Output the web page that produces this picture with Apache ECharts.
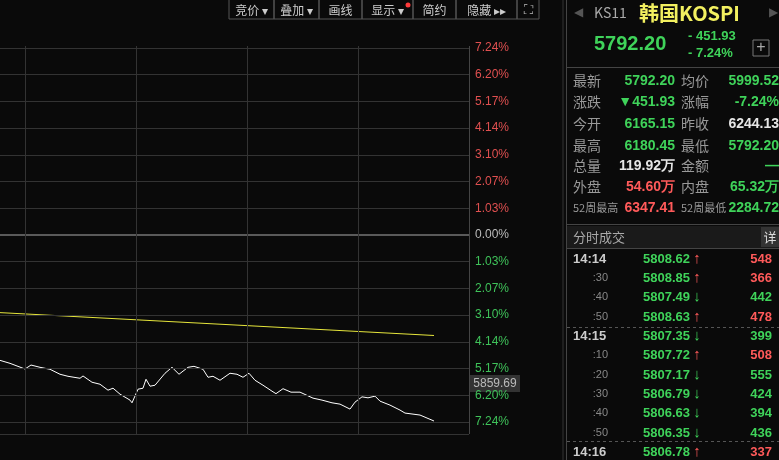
<!DOCTYPE html><html><head><meta charset="utf-8"><script src="https://cdn.jsdelivr.net/npm/echarts@6/dist/echarts.min.js"></script>
<style>body{margin:0;background:#0a0a0a}#c{width:779px;height:460px}</style></head><body><div id="c"></div><script>
const prevClose=6244.13;
const priceX=[0,10,25,31,40,50,60,68,80,83,92,100,108,113,120,130,132,138,143,146,150,155,165,172,179,188,194,203,208,213,220,230,237,243,249,255,263,272,276,283,291,300,313,322,332,340,350,355,362,368,375,380,390,400,405,420,434];
const priceY=[5941.2,5934.0,5920.3,5929.9,5924.4,5919.6,5907.6,5902.7,5897.9,5903.5,5888.3,5883.5,5869.1,5873.9,5859.5,5845.1,5838.6,5871.5,5873.9,5895.5,5878.7,5881.1,5910.0,5924.4,5907.6,5924.4,5926.8,5919.6,5900.3,5902.7,5893.1,5910.0,5907.6,5900.3,5910.0,5893.1,5881.1,5866.7,5860.7,5872.7,5864.3,5864.3,5849.9,5845.1,5838.6,5835.4,5823.4,5840.2,5853.0,5850.6,5854.7,5842.6,5833.0,5821.0,5813.8,5809.0,5794.6];
const avgX=[0,434];
const avgY=[6056.6,6001.3];
const pctLabels=['7.24%','6.20%','5.17%','4.14%','3.10%','2.07%','1.03%','0.00%','1.03%','2.07%','3.10%','4.14%','5.17%','6.20%','7.24%'];
const infoRows=[['最新','5792.20','均价','5999.52'],['涨跌','▼451.93','涨幅','-7.24%'],['今开','6165.15','昨收','6244.13'],['最高','6180.45','最低','5792.20'],['总量','119.92万','金额','—'],['外盘','54.60万','内盘','65.32万'],['52周最高','6347.41','52周最低','2284.72']];
const infoColors=[['#3fd35a','#3fd35a'],['#3fd35a','#3fd35a'],['#3fd35a','#e6e6e6'],['#3fd35a','#3fd35a'],['#e6e6e6','#3fd35a'],['#ff5a5a','#3fd35a'],['#ff5a5a','#3fd35a']];
const ticks=[['14:14','5808.62',1,'548'],[':30','5808.85',1,'366'],[':40','5807.49',0,'442'],[':50','5808.63',1,'478'],['14:15','5807.35',0,'399'],[':10','5807.72',1,'508'],[':20','5807.17',0,'555'],[':30','5806.79',0,'424'],[':40','5806.63',0,'394'],[':50','5806.35',0,'436'],['14:16','5806.78',1,'337']];
const buttons=['竞价 ▾','叠加 ▾','画线','显示 ▾','简约','隐藏 ▸▸'];
const step=prevClose*0.0724/7;
const levels=pctLabels.map((l,i)=>prevClose+(7-i)*step);
const F='"Noto Sans CJK SC",sans-serif';
const g=[];
const bx=[229,274,319,362,413,456,517];
buttons.forEach((b,i)=>{g.push({type:'rect',shape:{x:bx[i],y:-1,width:bx[i+1]-bx[i],height:20},style:{fill:'none',stroke:'#555'}});
g.push({type:'text',x:(bx[i]+bx[i+1])/2,y:10,style:{text:b,fill:'#ccc',font:'12px '+F,align:'center',verticalAlign:'middle'}});});
g.push({type:'circle',shape:{cx:408,cy:5,r:2.5},style:{fill:'#ff3b3b'}});
g.push({type:'rect',shape:{x:517,y:-1,width:22,height:20},style:{fill:'none',stroke:'#555'}});
g.push({type:'text',x:528,y:10,style:{text:'⛶',fill:'#bbb',font:'13px sans-serif',align:'center',verticalAlign:'middle'}});
g.push({type:'line',shape:{x1:563,y1:0,x2:563,y2:460},style:{stroke:'#333'}});
g.push({type:'line',shape:{x1:566.5,y1:0,x2:566.5,y2:460},style:{stroke:'#444'}});
g.push({type:'text',x:578,y:13,style:{text:'◀',fill:'#555',font:'12px sans-serif',align:'center',verticalAlign:'middle'}});
g.push({type:'text',x:773,y:13,style:{text:'▶',fill:'#555',font:'12px sans-serif',align:'center',verticalAlign:'middle'}});
g.push({type:'text',x:594,y:13,style:{text:'KS11',fill:'#aaa',font:'14px '+F,verticalAlign:'middle'}});
g.push({type:'text',x:639,y:13,style:{text:'韩国KOSPI',fill:'#f2f060',font:'bold 20px '+F,verticalAlign:'middle'}});
g.push({type:'text',x:594,y:44,style:{text:'5792.20',fill:'#3fd35a',font:'bold 20px Arial,sans-serif',verticalAlign:'middle'}});
g.push({type:'text',x:688,y:36,style:{text:'- 451.93',fill:'#3fd35a',font:'bold 13px Arial,sans-serif',verticalAlign:'middle'}});
g.push({type:'text',x:688,y:53,style:{text:'- 7.24%',fill:'#3fd35a',font:'bold 13px Arial,sans-serif',verticalAlign:'middle'}});
g.push({type:'rect',shape:{x:753,y:40,width:16,height:16},style:{fill:'none',stroke:'#777'}});
g.push({type:'text',x:761,y:48,style:{text:'+',fill:'#aaa',font:'16px sans-serif',align:'center',verticalAlign:'middle'}});
g.push({type:'line',shape:{x1:567,y1:67.5,x2:779,y2:67.5},style:{stroke:'#444'}});
const ry=[81,102,124,146,166,187,208];
infoRows.forEach((r,i)=>{const small=i==6;
g.push({type:'text',x:573,y:ry[i],style:{text:r[0],fill:'#999',font:(small?'11px ':'14px ')+F,verticalAlign:'middle'}});
g.push({type:'text',x:675,y:ry[i],style:{text:r[1],fill:infoColors[i][0],font:'bold 14px Arial,sans-serif',align:'right',verticalAlign:'middle'}});
g.push({type:'text',x:681,y:ry[i],style:{text:r[2],fill:'#999',font:(small?'11px ':'14px ')+F,verticalAlign:'middle'}});
g.push({type:'text',x:779,y:ry[i],style:{text:r[3],fill:infoColors[i][1],font:'bold 14px Arial,sans-serif',align:'right',verticalAlign:'middle'}});});
g.push({type:'line',shape:{x1:567,y1:224.5,x2:779,y2:224.5},style:{stroke:'#444'}});
g.push({type:'rect',shape:{x:567,y:226,width:212,height:22},style:{fill:'#1a1a1a'}});
g.push({type:'text',x:573,y:237,style:{text:'分时成交',fill:'#aaa',font:'13px '+F,verticalAlign:'middle'}});
g.push({type:'rect',shape:{x:761,y:227,width:18,height:20},style:{fill:'#333'}});
g.push({type:'text',x:770,y:237,style:{text:'详',fill:'#ddd',font:'13px '+F,align:'center',verticalAlign:'middle'}});
g.push({type:'line',shape:{x1:567,y1:248.5,x2:779,y2:248.5},style:{stroke:'#444'}});
const ty=[259,278,297,317,336,355,375,394,413,433,452];
ticks.forEach((t,i)=>{const full=t[0].length>3;
g.push({type:'text',x:full?573:608,y:ty[i],style:{text:t[0],fill:full?'#ccc':'#888',font:(full?'bold 13px ':'11px ')+'Arial,sans-serif',align:full?'left':'right',verticalAlign:'middle'}});
g.push({type:'text',x:690,y:ty[i],style:{text:t[1],fill:'#3fd35a',font:'bold 13px Arial,sans-serif',align:'right',verticalAlign:'middle'}});
g.push({type:'text',x:697,y:ty[i],style:{text:t[2]?'↑':'↓',fill:t[2]?'#ff5a5a':'#3fd35a',font:'bold 15px sans-serif',align:'center',verticalAlign:'middle'}});
g.push({type:'text',x:772,y:ty[i],style:{text:t[3],fill:t[2]?'#ff5a5a':'#3fd35a',font:'bold 13px Arial,sans-serif',align:'right',verticalAlign:'middle'}});});
[327,441].forEach(y=>g.push({type:'line',shape:{x1:567,y1:y+.5,x2:779,y2:y+.5},style:{stroke:'#555',lineDash:[3,3]}}));
g.push({type:'rect',shape:{x:470,y:375,width:50,height:17},style:{fill:'#333'}});
g.push({type:'text',x:495,y:383.5,style:{text:'5859.69',fill:'#bbb',font:'12px Arial,sans-serif',align:'center',verticalAlign:'middle'}});
const px=step*7/188;
const yMin=prevClose-px*200, yMax=levels[0]+px*2;
const chart=echarts.init(document.getElementById('c'));
chart.setOption({backgroundColor:'#0a0a0a',animation:false,
grid:{left:0,right:310,top:46,bottom:26},
xAxis:{type:'value',min:0,max:469,show:false},
yAxis:{type:'value',min:yMin,max:yMax,show:false},
graphic:g,
series:[
{type:'line',silent:true,data:[],markLine:{symbol:'none',silent:true,data:[...levels.map((v,i)=>({yAxis:v,lineStyle:{color:i==7?'#5a5a5a':'#333',width:i==7?2:1,type:'solid'},label:{show:true,position:'end',distance:6,formatter:pctLabels[i],color:i<7?'#e05050':i==7?'#bbb':'#3fc35a',fontSize:12,fontFamily:'Arial'}})),
...[25,136,247,358].map(x=>({xAxis:x,lineStyle:{color:'#333',width:1,type:'solid'},label:{show:false}})),
{xAxis:469,lineStyle:{color:'#444',width:1,type:'solid'},label:{show:false}},{yAxis:yMin,lineStyle:{color:'#333',width:1,type:'solid'},label:{show:false}}]}},
{type:'line',data:avgX.map((x,i)=>[x,avgY[i]]),symbol:'none',lineStyle:{color:'#e6e63c',width:1}},
{type:'line',data:priceX.map((x,i)=>[x,priceY[i]]),symbol:'none',lineStyle:{color:'#fff',width:1}}
]});
</script></body></html>
